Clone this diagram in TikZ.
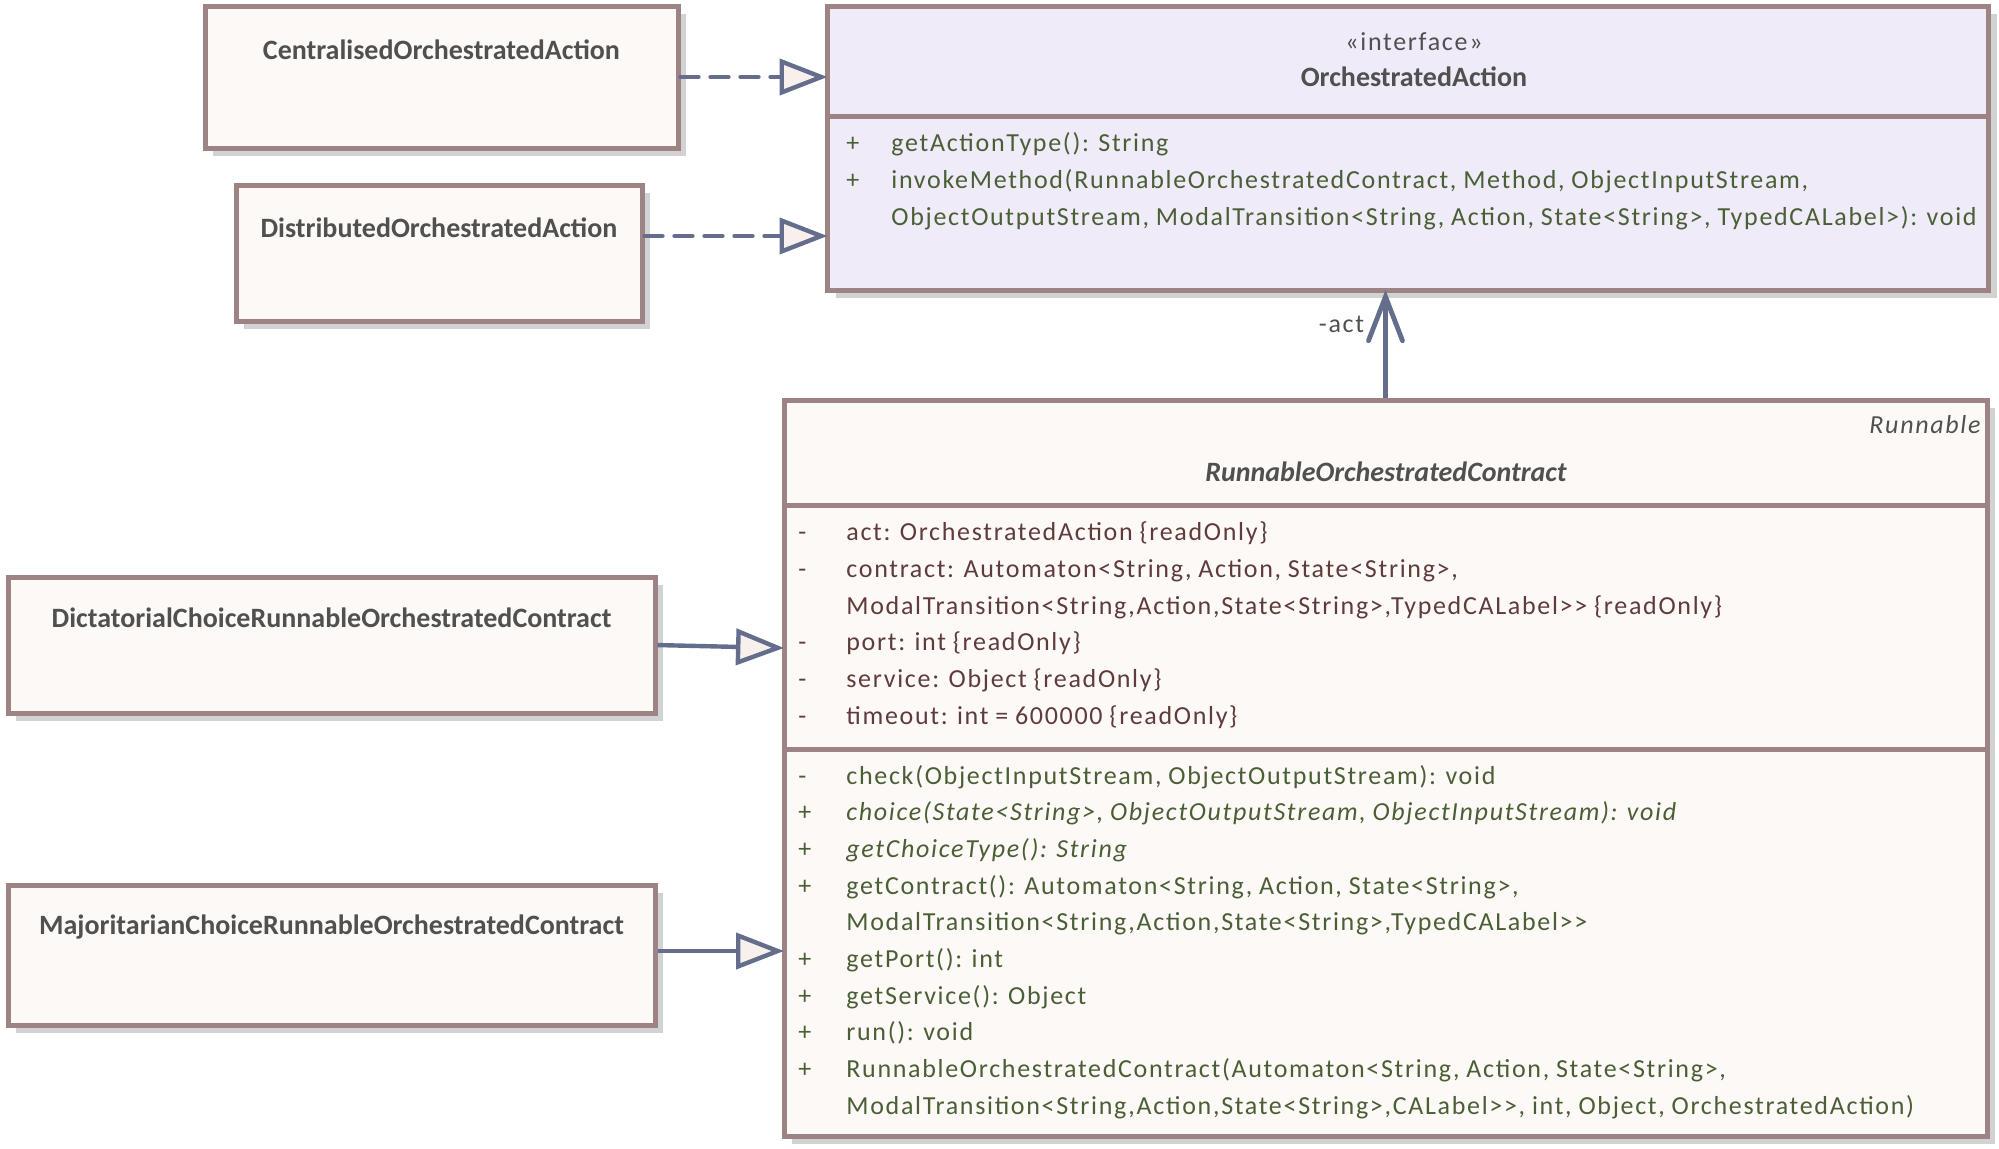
\documentclass[tikz,border=0pt]{standalone}
\usepackage{fontspec}
\setmainfont{Carlito}
\newfontfamily\memfont[LetterSpace=6.5,WordSpace=0.9]{Carlito}
\usetikzlibrary{arrows.meta,shadows,calc}

\definecolor{edge}{RGB}{157,131,131}
\definecolor{boxfill}{RGB}{253,249,246}
\definecolor{ifill}{RGB}{239,235,248}
\definecolor{shade}{RGB}{210,210,210}
\definecolor{link}{RGB}{100,110,140}
\definecolor{tipfill}{RGB}{248,240,236}
\definecolor{titlecol}{RGB}{80,80,80}
\definecolor{attrcol}{RGB}{95,60,60}
\definecolor{opcol}{RGB}{75,95,55}

\begin{document}
\begin{tikzpicture}[x=0.5pt,y=-0.5pt,
  classbox/.style={draw=edge, line width=2.5pt, fill=boxfill, inner sep=0pt, outer sep=0pt,
    general shadow={fill=shade, shadow xshift=4pt, shadow yshift=-4pt}},
  divider/.style={draw=edge, line width=2.5pt},
  title/.style={font=\fontsize{14}{16}\selectfont\bfseries, text=titlecol, inner sep=0pt},
  stereo/.style={font=\memfont\fontsize{13}{15}\selectfont, text=titlecol, inner sep=0pt},
  sym/.style={font=\memfont\fontsize{13}{15}\selectfont, inner sep=0pt, anchor=base west},
  member/.style={font=\memfont\fontsize{13}{15}\selectfont, inner sep=0pt, anchor=base west},
  link/.style={draw=link, line width=2.2pt, shorten <=1.25pt},
  realize/.style={link, dash pattern=on 9pt off 6pt, line cap=round,
    -{Triangle[length=24pt,width=18pt,fill=tipfill,line cap=butt]}},
  inherit/.style={link, -{Triangle[length=24pt,width=18pt,fill=tipfill]}},
  assoc/.style={link, line width=2.4pt, -{Straight Barb[length=22pt,width=17pt,line cap=round]}},
]
\useasboundingbox (0,0) rectangle (1999,1148);

% class boxes
\node[classbox, minimum width=236.5pt, minimum height=71pt] (cen) at (441.5,77) {};
\node[classbox, minimum width=203pt, minimum height=68pt] (dis) at (439,253) {};
\node[classbox, fill=ifill, minimum width=580.5pt, minimum height=142pt] (oa) at (1408,148) {};
\node[classbox, minimum width=601.5pt, minimum height=368pt] (roc) at (1385.5,768) {};
\node[classbox, minimum width=323.5pt, minimum height=68pt] (dict) at (331.5,645) {};
\node[classbox, minimum width=323.5pt, minimum height=70pt] (maj) at (331.5,955) {};

% compartment separators
\draw[divider] ([yshift=-55pt]oa.north west) -- ([yshift=-55pt]oa.north east);
\draw[divider] ([yshift=-52.5pt]roc.north west) -- ([yshift=-52.5pt]roc.north east);
\draw[divider] ([yshift=-174.5pt]roc.north west) -- ([yshift=-174.5pt]roc.north east);

% class names
\node[title] (centitle) at (441.5,50) {CentralisedOrchestratedAction};
\node[title] (distitle) at (439,228) {DistributedOrchestratedAction};
\node[title] (dicttitle) at (331.5,618) {DictatorialChoiceRunnableOrchestratedContract};
\node[title] (majtitle) at (331.5,927) {MajoritarianChoiceRunnableOrchestratedContract};
\node[stereo] (oastereo) at (1414,42) {«interface»};
\node[title] (oatitle) at (1414,77) {OrchestratedAction};
\node[stereo, font=\memfont\fontsize{13}{15}\selectfont\itshape, anchor=east] (rocparent) at (1981,425) {Runnable};
\node[title, font=\fontsize{14}{16}\selectfont\bfseries\itshape] (roctitle) at (1386,472) {RunnableOrchestratedContract};

% interface operations
\foreach [count=\i] \s/\t in {
  +/{getActionType(): String},
  +/{invokeMethod(RunnableOrchestratedContract, Method, ObjectInputStream,},
  {}/{ObjectOutputStream, ModalTransition<String, Action, State<String>, TypedCALabel>): void}}
{
  \node[sym, text=opcol] (oasym\i) at (846,{151+(\i-1)*37}) {\s};
  \node[member, text=opcol] (oaop\i) at (891,{151+(\i-1)*37}) {\t};
}

% attributes
\foreach [count=\i] \s/\t in {
  -/{act: OrchestratedAction \{readOnly\}},
  -/{contract: Automaton<String, Action, State<String>,},
  {}/{ModalTransition<String,Action,State<String>,TypedCALabel>> \{readOnly\}},
  -/{port: int \{readOnly\}},
  -/{service: Object \{readOnly\}},
  -/{timeout: int = 600000 \{readOnly\}}}
{
  \node[sym, text=attrcol] (rocsym\i) at (798,{540.5+(\i-1)*36.8}) {\s};
  \node[member, text=attrcol] (rocattr\i) at (846,{540.5+(\i-1)*36.8}) {\t};
}

% operations
\foreach [count=\i] \s/\t in {
  -/{check(ObjectInputStream, ObjectOutputStream): void},
  +/{\itshape choice(State<String>, ObjectOutputStream, ObjectInputStream): void},
  +/{\itshape getChoiceType(): String},
  +/{getContract(): Automaton<String, Action, State<String>,},
  {}/{ModalTransition<String,Action,State<String>,TypedCALabel>>},
  +/{getPort(): int},
  +/{getService(): Object},
  +/{run(): void},
  +/{RunnableOrchestratedContract(Automaton<String, Action, State<String>,},
  {}/{ModalTransition<String,Action,State<String>,CALabel>>, int, Object, OrchestratedAction)}}
{
  \node[sym, text=opcol] (rocopsym\i) at (798,{784+(\i-1)*36.67}) {\s};
  \node[member, text=opcol] (rocop\i) at (846,{784+(\i-1)*36.67}) {\t};
}

% realizations
\draw[realize] (cen.east) -- (cen.east -| oa.west);
\draw[realize] ([yshift=8.5pt]dis.east) -- ([yshift=8.5pt]dis.east -| oa.west);

% generalizations
\draw[inherit] (dict.east) -- ([yshift=-1.5pt]dict.east -| roc.west);
\draw[inherit] ([yshift=2pt]maj.east) -- ([yshift=2pt]maj.east -| roc.west);

% association
\draw[assoc] (roc.north) -- (roc.north |- oa.south)
  node[stereo, pos=0.614, anchor=base east, xshift=-9.5pt] (actlabel) {-act};
\end{tikzpicture}
\end{document}
